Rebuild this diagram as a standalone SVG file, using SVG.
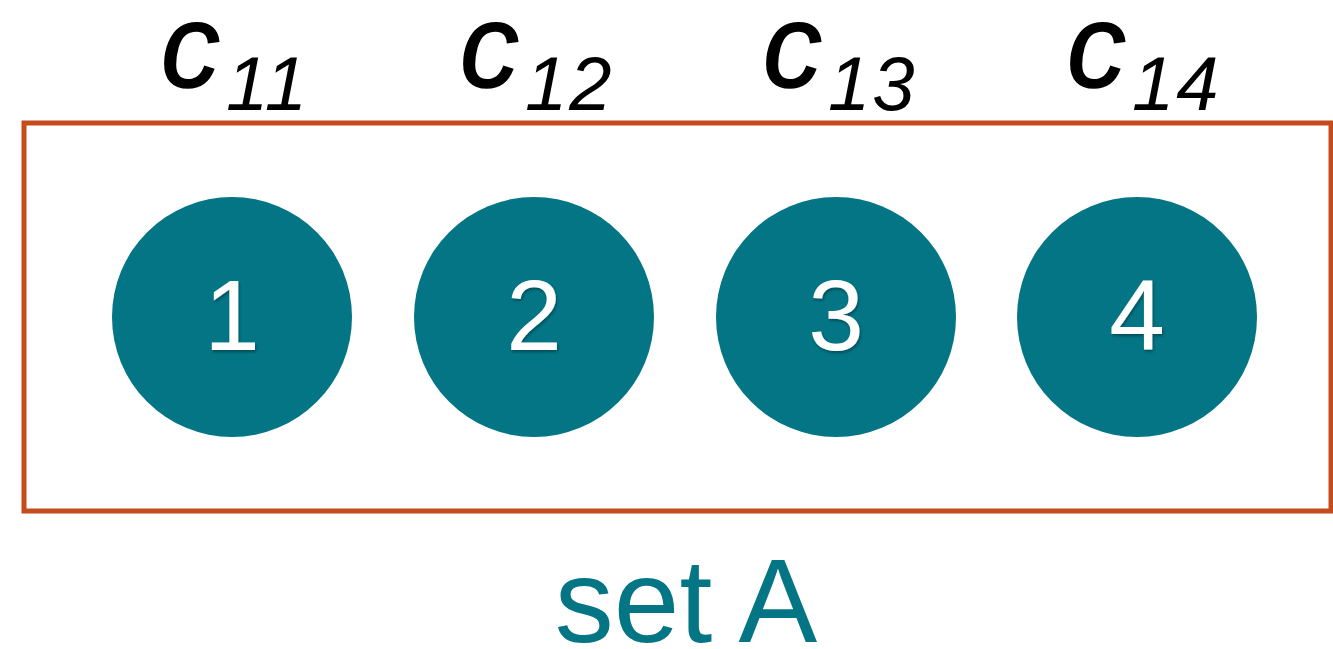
<svg xmlns="http://www.w3.org/2000/svg" width="1333" height="649" viewBox="0 0 1333 649">
<style>
.node{fill:#037585}
.num{fill:#ffffff;font-family:"Liberation Sans",Arial,sans-serif;font-size:100px;text-anchor:middle}
.lab{fill:#000000;font-family:"Liberation Sans",Arial,sans-serif;font-style:italic}
.c{font-size:118px;stroke:#000;stroke-width:1.5px}
.sub{font-size:76px;letter-spacing:2px}
.set{fill:#037585;font-family:"Liberation Sans",Arial,sans-serif;font-size:118px;text-anchor:middle}
</style>
<defs>
<filter id="sh" x="-20%" y="-20%" width="140%" height="140%">
<feDropShadow dx="1" dy="2" stdDeviation="1.5" flood-color="#000" flood-opacity="0.35"/>
</filter>
</defs>
<rect id="setA" x="24" y="123" width="1307" height="388" fill="none" stroke="#c54a1c" stroke-width="5"/>
<g id="n1"><circle class="node" cx="232" cy="317" r="120"/><text class="num" x="232" y="350" filter="url(#sh)">1</text></g>
<g id="n2"><circle class="node" cx="534" cy="317" r="120"/><text class="num" x="534" y="350" filter="url(#sh)">2</text></g>
<g id="n3"><circle class="node" cx="836" cy="317" r="120"/><text class="num" x="836" y="350" filter="url(#sh)">3</text></g>
<g id="n4"><circle class="node" cx="1137" cy="317" r="120"/><text class="num" x="1137" y="350" filter="url(#sh)">4</text></g>
<g id="labels">
<text class="lab c" x="161" y="87">c</text><text class="lab sub" x="226" y="110">11</text>
<text class="lab c" x="460" y="87">c</text><text class="lab sub" x="525" y="110">12</text>
<text class="lab c" x="763" y="87">c</text><text class="lab sub" x="828" y="110">13</text>
<text class="lab c" x="1067" y="87">c</text><text class="lab sub" x="1132" y="110">14</text>
</g>
<text class="set" x="686" y="642">set A</text>
</svg>
